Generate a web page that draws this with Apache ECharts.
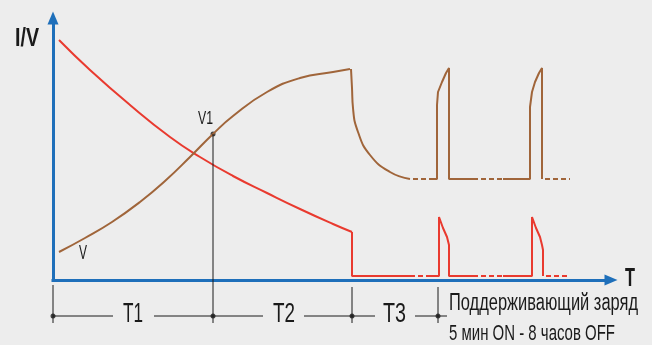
<!DOCTYPE html>
<html>
<head>
<meta charset="utf-8">
<script src="https://cdn.jsdelivr.net/npm/echarts@6/dist/echarts.min.js"></script>
<style>
  html, body { margin: 0; padding: 0; background: #ededed; }
  #chart { width: 652px; height: 345px; }
</style>
</head>
<body>
<div id="chart"></div>
<script>
// x: time units from origin, y: level units from the T axis
const redCharge = [[6,240],[37,210],[77,175],[117,143],[147,123],[180,104],[214,87],[247,71],[280,56],[299,48]];
const redSolid = [
  [[299,48],[299,4],[357,4]],
  [[377,4],[386,4],[386,63],[390,52],[394,43],[396,35],[396,30],[396,4],[425,4]],
  [[450,4],[479,4],[479,63],[483,52],[487,43],[489,35],[490,30],[490,4]]
];
const redDash = [[[357,4],[377,4]], [[428,4],[450,4]], [[493,4],[517,4]]];

const brownCharge = [[6,28],[32,42],[59,58],[87,78],[112,99],[137,123],[160,146],[180,164],[214,188],[247,202],[280,208],[297,211]];
const brownDrop = [[298,211],[299,192],[300,172],[305,148],[317,125],[337,108],[357,101]];
const brownSolid = [
  [[379,101],[384,101],[384,175],[385,188],[389,198],[393,207],[396,212],[396,101],[425,101]],
  [[450,101],[477,101],[477,173],[479,188],[482,198],[486,207],[489,212],[489,101]]
];
const brownDash = [[[360,101],[379,101]], [[428,101],[450,101]], [[492,101],[517,101]]];

// T1 / T2 / T3 dimension marks below the axis
const dimTicks = [[[0,-5],[0,-43]], [[160,146],[160,-43]], [[299,-7],[299,-43]], [[385,-7],[385,-43]]];
const dimLines = [[[0,-36],[60,-36]], [[101,-36],[210,-36]], [[251,-36],[322,-36]], [[362,-36],[394,-36]]];
const dimDots = [[0,-36],[160,-36],[299,-36],[385,-36],[160,146]];

const RED = '#e93a2f';
const BROWN = '#a0653a';
const BLUE = '#1e6fba';
const INK = '#1a1a1a';

const chart = echarts.init(document.getElementById('chart'));

const line = (data, color, opts) => Object.assign({
  type: 'line',
  data: data,
  symbol: 'none',
  clip: false,
  silent: true,
  lineStyle: { color: color, width: 2 }
}, opts || {});

const series = [];
series.push(line(redCharge, RED, { smooth: 0.5 }));
redSolid.forEach(d => series.push(line(d, RED)));
redDash.forEach(d => series.push(line(d, RED, { lineStyle: { color: RED, width: 2, type: [5, 3] } })));
series.push(line(brownCharge, BROWN, { smooth: 0.5 }));
series.push(line(brownDrop, BROWN, { smooth: 0.5 }));
brownSolid.forEach(d => series.push(line(d, BROWN)));
brownDash.forEach(d => series.push(line(d, BROWN, { lineStyle: { color: BROWN, width: 2, type: [5, 3] } })));
dimTicks.concat(dimLines).forEach(d => series.push(line(d, INK, { lineStyle: { color: INK, width: 1 } })));
series.push({
  type: 'scatter',
  data: dimDots,
  symbolSize: 5,
  clip: false,
  silent: true,
  itemStyle: { color: INK }
});

// condensed look: squeeze text to the width it has in the picture
const ctx = document.createElement('canvas').getContext('2d');
const FONT = 'Liberation Sans';
function label(text, left, cy, width, size, bold) {
  const weight = bold ? 'bold' : 'normal';
  ctx.font = weight + ' ' + size + 'px "' + FONT + '"';
  const w = ctx.measureText(text).width;
  return {
    type: 'text',
    x: left,
    y: cy,
    scaleX: width / w,
    silent: true,
    style: {
      text: text,
      fontFamily: FONT,
      fontSize: size,
      fontWeight: weight,
      fill: INK,
      align: 'left',
      verticalAlign: 'middle'
    }
  };
}

chart.setOption({
  backgroundColor: '#ededed',
  animation: false,
  grid: { left: 53, right: 41, top: 18, bottom: 65 },
  xAxis: {
    type: 'value', min: 0, max: 558,
    axisLine: { show: true, onZero: false, symbol: ['none', 'triangle'], symbolSize: [11, 13],
      lineStyle: { color: BLUE, width: 3, cap: 'square' } },
    axisTick: { show: false }, axisLabel: { show: false }, splitLine: { show: false }
  },
  yAxis: {
    type: 'value', min: 0, max: 262,
    axisLine: { show: true, onZero: false, symbol: ['none', 'triangle'], symbolSize: [11, 13],
      lineStyle: { color: BLUE, width: 3, cap: 'square' } },
    axisTick: { show: false }, axisLabel: { show: false }, splitLine: { show: false }
  },
  series: series,
  graphic: [
    label('I/V', 15, 39, 24, 26, true),
    label('T', 625, 279, 10, 25, true),
    label('V1', 198, 119, 15, 19, false),
    label('V', 79, 253, 8, 21, false),
    label('T1', 123, 315, 20, 27, false),
    label('T2', 273, 315, 22, 27, false),
    label('T3', 383, 315, 23, 27, false),
    label('Поддерживающий заряд', 449, 304, 189, 23, false),
    label('5 мин ON - 8 часов OFF', 449, 334, 166, 22, false)
  ]
});
</script>
</body>
</html>
